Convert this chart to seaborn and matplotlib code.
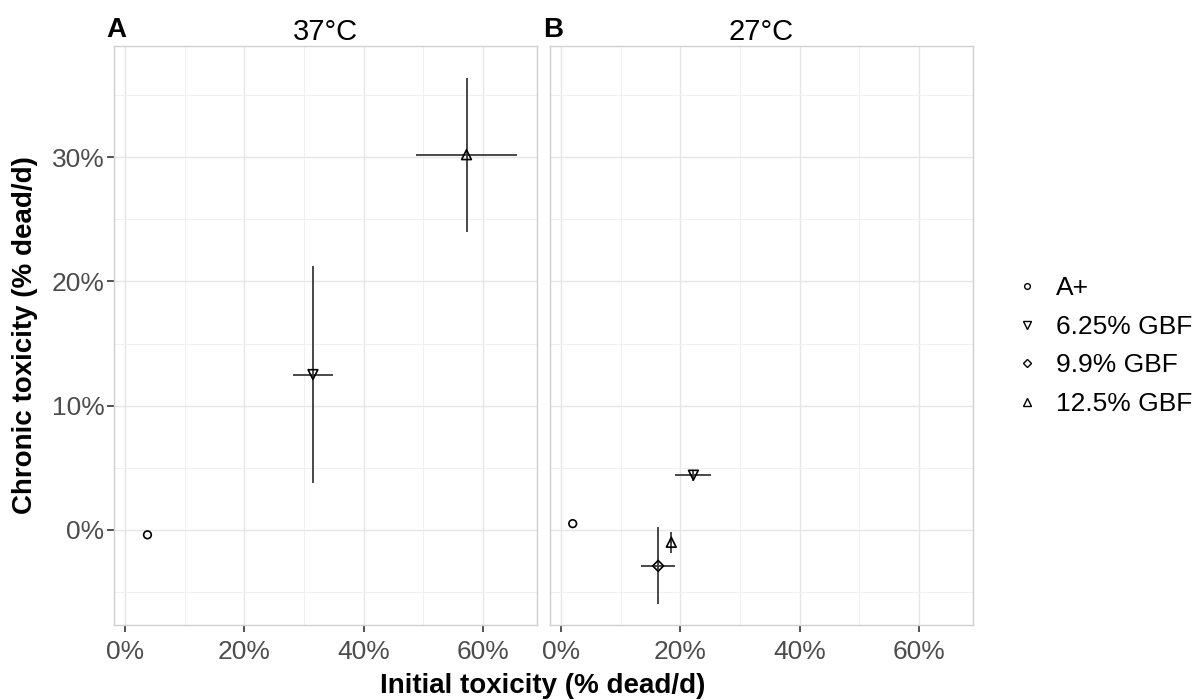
import pandas as pd
import seaborn as sns
import matplotlib.pyplot as plt
from matplotlib.ticker import FixedLocator, FuncFormatter
from matplotlib.lines import Line2D

# values (percent dead per day)
groups = ['A+', '6.25% GBF', '12.5% GBF']
init_37 = [3.8, 31.5, 57.2]
chron_37 = [-0.4, 12.5, 30.2]
init_err_37 = [0.0, 3.3, 8.4]
chron_err_37 = [0.0, 8.7, 6.2]

groups_27 = ['A+', '6.25% GBF', '9.9% GBF', '12.5% GBF']
init_27 = [2.0, 22.2, 16.3, 18.5]
chron_27 = [0.5, 4.4, -2.9, -1.0]
init_err_27 = [0.0, 3.0, 2.85, 0.2]
chron_err_27 = [0.0, 0.45, 3.1, 0.85]

legend_order = ['A+', '6.25% GBF', '9.9% GBF', '12.5% GBF']
marker_map = {'A+': 'o', '6.25% GBF': 'v', '9.9% GBF': 'D', '12.5% GBF': '^'}
size_map = {'A+': 5.5, '6.25% GBF': 7, '9.9% GBF': 5.5, '12.5% GBF': 7}

df37 = pd.DataFrame({'group': groups, 'init': init_37, 'chron': chron_37,
                     'xerr': init_err_37, 'yerr': chron_err_37})
df27 = pd.DataFrame({'group': groups_27, 'init': init_27, 'chron': chron_27,
                     'xerr': init_err_27, 'yerr': chron_err_27})

sns.set_style('white')
plt.rcParams['font.family'] = ['Liberation Sans', 'DejaVu Sans']
plt.rcParams['text.color'] = 'black'

fig = plt.figure(figsize=(11.99, 7.0), dpi=100)
W, H = 1199, 700
axA = fig.add_axes([114 / W, 1 - 625 / H, 423 / W, 579 / H])
axB = fig.add_axes([550 / W, 1 - 625 / H, 423 / W, 579 / H], sharey=axA)

pct = FuncFormatter(lambda v, p: f'{v:.0f}%')

for ax, d, title, letter in [(axA, df37, '37°C', 'A'), (axB, df27, '27°C', 'B')]:
    ax.errorbar(d['init'], d['chron'], xerr=d['xerr'], yerr=d['yerr'],
                fmt='none', ecolor='#3a3a3a', elinewidth=1.3, capsize=0, zorder=2)
    for g, sub in d.groupby('group'):
        sns.scatterplot(data=sub, x='init', y='chron', ax=ax, marker=marker_map[g],
                        s=size_map[g] ** 2, facecolor='none', edgecolor='black',
                        linewidth=1.2, zorder=3, legend=False)
    ax.set_xlim(-1.8, 69.0)
    ax.set_ylim(-7.66, 38.95)
    ax.xaxis.set_major_locator(FixedLocator([0, 20, 40, 60]))
    ax.xaxis.set_minor_locator(FixedLocator([10, 30, 50]))
    ax.yaxis.set_major_locator(FixedLocator([0, 10, 20, 30]))
    ax.yaxis.set_minor_locator(FixedLocator([-5, 5, 15, 25, 35]))
    ax.xaxis.set_major_formatter(pct)
    ax.yaxis.set_major_formatter(pct)
    ax.grid(True, which='major', color='#e6e6e6', lw=1.0, zorder=0)
    ax.grid(True, which='minor', color='#f0f0f0', lw=0.7, zorder=0)
    ax.set_axisbelow(True)
    for s in ax.spines.values():
        s.set_color('#d0d0d0')
        s.set_linewidth(1.0)
    ax.tick_params(axis='x', which='major', bottom=True, length=5, width=1.2,
                   color='#333333', labelsize=19, labelcolor='#4d4d4d', pad=6)
    ax.tick_params(which='minor', length=0)
    ax.set_xlabel('')
    ax.set_ylabel('')
    ax.set_title(title, fontsize=21, pad=4, color='black')
    ax.text(-0.017, 1.005, letter, transform=ax.transAxes, fontsize=20,
            fontweight='bold', ha='left', va='bottom', color='black')

axA.tick_params(axis='y', which='major', left=True, length=5, width=1.2,
                color='#333333', labelsize=19, labelcolor='#4d4d4d', pad=2)
axB.tick_params(axis='y', which='both', left=False, length=0, labelleft=False)

fig.text(543 / W, 1 - 686 / H, 'Initial toxicity (% dead/d)', ha='center', va='center',
         fontsize=20, fontweight='bold', color='black')
fig.text(25 / W, 1 - 335 / H, 'Chronic toxicity (% dead/d)', ha='center', va='center',
         rotation=90, fontsize=20, fontweight='bold', color='black')

handles = [Line2D([], [], ls='none', marker=marker_map[g], markersize=size_map[g] * 0.75,
                  markerfacecolor='none', markeredgecolor='black', markeredgewidth=1.0)
           for g in legend_order]
leg = fig.legend(handles, legend_order, loc='center left', bbox_to_anchor=(990 / W, 1 - 346 / H),
                 frameon=False, fontsize=19, handletextpad=0.6, labelspacing=0.55,
                 handlelength=1.0)
for t in leg.get_texts():
    t.set_color('black')

fig.savefig('out.png', dpi=100)
